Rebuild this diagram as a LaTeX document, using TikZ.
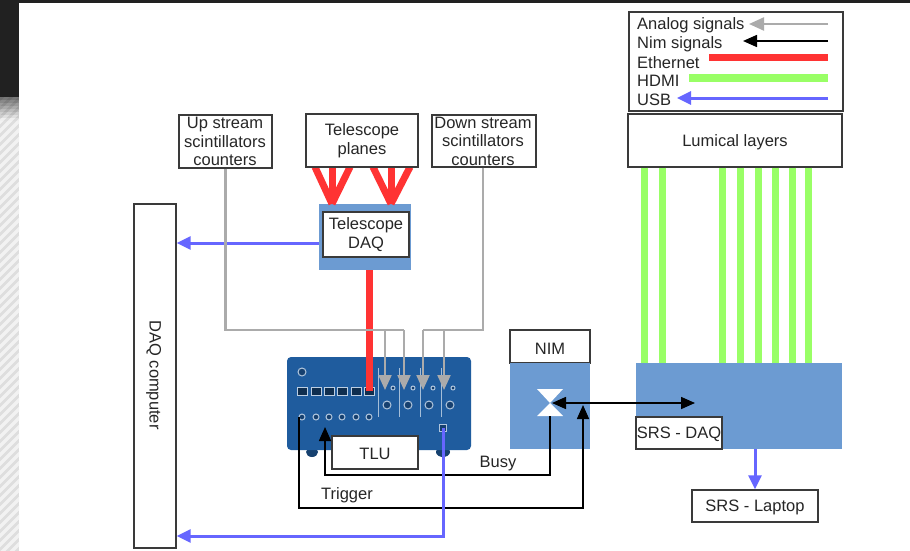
\documentclass[tikz,border=0pt]{standalone}
\usepackage{fontspec}
\setmainfont{Liberation Sans}
\usetikzlibrary{arrows.meta}
\definecolor{daqblue}{HTML}{6C9BD2}
\definecolor{tlublue}{HTML}{1F5C9E}
\definecolor{ethred}{HTML}{FF3333}
\definecolor{hdmigreen}{HTML}{99FF66}
\definecolor{usbblue}{HTML}{6666FF}
\definecolor{anagray}{HTML}{ABABAB}
\definecolor{inkgray}{HTML}{3A3A3A}

\begin{document}
\begin{tikzpicture}[
  x=1pt,y=-1pt,
  font=\fontsize{16.5}{18.5}\selectfont\color{black!85},
  lbl/.style={draw=inkgray,line width=1.4pt,fill=white,align=center,inner sep=0pt,execute at begin node={\rule{0pt}{15pt}}},
  txt/.style={inner sep=0pt,execute at begin node={\rule{0pt}{15pt}}},
  daq/.style={fill=daqblue,inner sep=0pt},
  analog/.style={draw=anagray,line width=2.2pt},
  analogarrow/.style={analog,-{Triangle[length=15pt,width=13pt]}},
  nimline/.style={draw=black,line width=1.6pt},
  nimarrow/.style={nimline,-{Triangle[length=14pt,width=12pt]}},
  nimboth/.style={nimline,{Triangle[length=14pt,width=12pt]}-{Triangle[length=14pt,width=12pt]}},
  eth/.style={draw=ethred,line width=7pt},
  hdmi/.style={draw=hdmigreen,line width=7pt},
  usb/.style={draw=usbblue,line width=3pt},
  usbarrow/.style={usb,-{Triangle[length=14pt,width=13pt]}},
  port/.style={fill=tlublue!50!black,draw=white!70!tlublue,line width=1pt,inner sep=0pt,minimum width=10pt,minimum height=8pt},
  jack/.style={circle,fill=tlublue!70!black,draw=white!65!tlublue,line width=1pt,inner sep=0pt,minimum size=6pt}
  ]

   \useasboundingbox (0,0) rectangle (910,551);

   % page behind the sketch
   \fill [white] (0,0) rectangle (910,551);
   \fill [black!13] (0,97) rectangle (19,551);
   \begin{scope}
     \clip (0,97) rectangle (19,551);
     \foreach \y in {97,106,...,570}
       \draw [black!5,line width=3.5pt] (-2,\y) -- (21,\y-23);
     \foreach \y in {0,...,7}
       \fill [black,opacity=.5-.07*\y] (0,97+3*\y) rectangle (19,100+3*\y);
   \end{scope}
   \fill [black!87] (0,0) rectangle (19,97);
   \fill [black!87] (0,0) rectangle (910,3);

   % legend
   \node (legend) [lbl,minimum width=214,minimum height=99] at (736,61.5) {};
   \node (anatxt) [txt,anchor=west] at (637,24) {Analog signals};
   \node (nimtxt) [txt,anchor=west] at (637,43) {Nim signals};
   \node (ethtxt) [txt,anchor=west] at (637,61) {Ethernet};
   \node (hdmitxt) [txt,anchor=west] at (637,79) {HDMI};
   \node (usbtxt) [txt,anchor=west] at (637,98) {USB};
   \coordinate (anaend) at (828,24);
   \coordinate (nimend) at (828,41);
   \coordinate (ethend) at (828,58);
   \coordinate (hdmiend) at (828,78);
   \coordinate (usbend) at (828,98);
   \draw [analogarrow] (anaend) to (749,24);
   \draw [nimarrow] (nimend) to (743,41);
   \draw [eth] (709,58) to (ethend);
   \draw [hdmi] (689,78) to (hdmiend);
   \draw [usbarrow] (usbend) to (677,98);

   % telescope DAQ
   \node (teldaq) [daq,minimum width=92,minimum height=66] at (365,237) {};
   \coordinate (planesbot) at (362,167);
   \foreach \dx in {-47,-30,-12}
     \draw [eth] ([xshift=\dx]planesbot) to ([xshift=-33]teldaq.north);
   \foreach \dx in {11,29,48}
     \draw [eth] ([xshift=\dx]planesbot) to ([xshift=26]teldaq.north);
   \node (teltxt) [lbl,minimum width=86,minimum height=45] at (366,234.5) {Telescope\\ DAQ};

   % top row
   \node (up) [lbl,minimum width=93,minimum height=53] at (225.5,141.5) {};
   \node (uptxt) [txt,align=center] at (225,141.5) {Up stream\\ scintillators\\ counters};
   \node (planes) [lbl,minimum width=112,minimum height=53] at (362,140.5) {Telescope\\ planes};
   \node (down) [lbl,minimum width=104,minimum height=52] at (484,141) {};
   \node (downtxt) [txt,align=center] at (483,141) {Down stream\\ scintillators\\ counters};
   \node (lumical) [lbl,minimum width=214,minimum height=53] at (735,140.5) {Lumical layers};

   \node (computer) [lbl,minimum width=42,minimum height=344] at (155,376) {};
   \node (comptxt) [txt,rotate=-90] at (155.5,375) {DAQ computer};
   \draw [usbarrow] (teldaq.west |- 0,243) to (computer.east |- 0,243);

   % TLU board
   \fill [tlublue!70!black] (312,452) ellipse (6 and 5);
   \fill [tlublue!70!black] (443,452) ellipse (7 and 5);
   \node (board) [fill=tlublue,rounded corners=4pt,inner sep=0pt,minimum width=184,minimum height=93] at (379,403.5) {};
   \foreach \x in {302,316,329,342,356,369}
     \node (eth\x) [port] at (\x,391) {};
   \foreach \x in {302,316,329,342,356,369}
     \node (trg\x) [jack] at (\x,417) {};
   \foreach \x in {387,408,429,450} {
     \node (ch\x) [jack,minimum size=8pt] at (\x,405) {};
     \draw [white!60!tlublue,line width=.5pt] (\x-9,368) -- (\x-9,417);
   }
   \foreach \x in {393,413,433,453}
     \node (lem\x) [jack,minimum size=4pt] at (\x,388) {};
   \node (clk) [jack,minimum size=8pt] at (302,372) {};
   \node (usbport) [jack,rectangle,minimum size=7pt] at (443,428) {};

   \node (tlu) [lbl,minimum width=86,minimum height=33] at (375,452.5) {TLU};

   \draw [eth] (teldaq.south -| eth369) to (eth369.center);
   \draw [analog] (up.south) |- (404,330);
   \draw [analog] (down.south -| 483,0) |- (423,330);
   \draw [analogarrow] (385,330) to (385,390);
   \draw [analogarrow] (404,330) to (404,390);
   \draw [analogarrow] (423,330) to (423,390);
   \draw [analogarrow] (444,330) to (444,390);

   % NIM
   \node (nim) [lbl,minimum width=80,minimum height=33] at (550,346.5) {NIM};
   \node (nimbox) [daq,minimum width=80,minimum height=86] at (550,406) {};
   \fill [white] (537,389) -- (563,389) -- (550,403) -- (563,416) -- (537,416) -- (550,403) -- cycle;
   \coordinate (gate) at (550,403);

   % lumical readout
   \node (srsbox) [daq,minimum width=206,minimum height=86] at (739,406) {};
   \foreach \x in {644,662,722,740,758,775,792,808}
     \draw [hdmi] (lumical.south -| \x,0) to (srsbox.north -| \x,0);
   \node (srsdaq) [lbl,minimum width=86,minimum height=32] at (679,433) {SRS - DAQ};
   \node (laptop) [lbl,minimum width=126,minimum height=32] at (755,506) {SRS - Laptop};
   \draw [usbarrow] (laptop.north |- srsbox.south) to (laptop.north);

   % NIM signals and USB
   \draw [nimboth] (552,403) to (695,403);
   \draw [nimarrow] (gate |- 0,416) |- (325,475) to (325,427);
   \draw [nimarrow] (trg302.center -| 299,0) |- (583,508) to (583,405);
   \draw [usbarrow] (usbport.center) |- (computer.east |- 0,536);
   \node (busy) [txt] at (498,462) {Busy};
   \node (trigger) [txt] at (347,494) {Trigger};

\end{tikzpicture}
\end{document}
